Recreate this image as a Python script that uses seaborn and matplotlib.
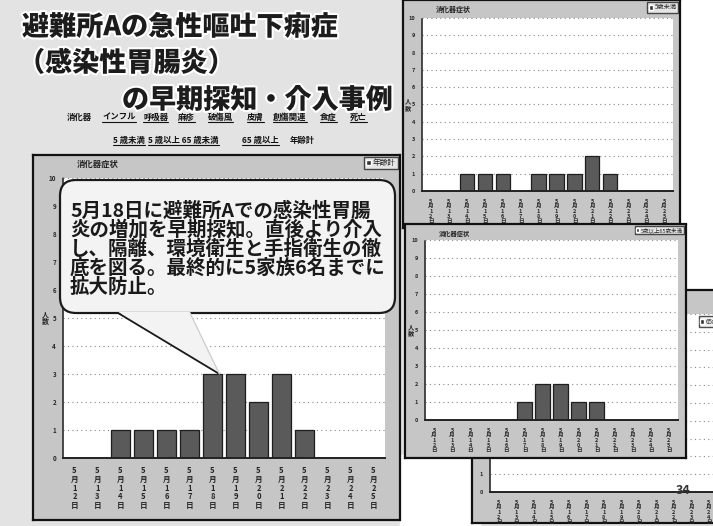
import numpy as np
import pandas as pd
import seaborn as sns
import matplotlib.pyplot as plt
from matplotlib.patches import FancyBboxPatch, Polygon, Rectangle, Patch
import matplotlib.patheffects as pe

sns.set_theme(style="white")
plt.rcParams['font.family'] = ['Noto Sans CJK JP', 'DejaVu Sans']

# data
dates = ["5月12日", "5月13日", "5月14日", "5月15日", "5月16日", "5月17日", "5月18日",
         "5月19日", "5月20日", "5月21日", "5月22日", "5月23日", "5月24日", "5月25日"]
total = [0, 0, 1, 1, 1, 1, 3, 3, 2, 3, 1, 0, 0, 0]
under5 = [0, 0, 1, 1, 1, 0, 1, 1, 1, 2, 1, 0, 0, 0]
age5_64 = [0, 0, 0, 0, 0, 1, 2, 2, 1, 1, 0, 0, 0, 0]
over65 = [0, 0, 0, 0, 0, 0, 0, 0, 0, 0, 0, 0, 0, 0]

title_lines = ["避難所Aの急性嘔吐下痢症", "（感染性胃腸炎）", "の早期探知・介入事例"]
menu1 = ["消化器", "インフル", "呼吸器", "麻疹", "破傷風", "皮膚", "創傷関連", "食症", "死亡"]
menu1_x = [67, 102, 143, 178, 208, 247, 273, 320, 350]
menu2 = ["5 歳未満", "5 歳以上 65 歳未満", "65 歳以上", "年齢計"]
menu2_x = [113, 148, 242, 290]
bubble_lines = ["5月18日に避難所Aでの感染性胃腸",
                "炎の増加を早期探知。直後より介入",
                "し、隔離、環境衛生と手指衛生の徹",
                "底を図る。最終的に5家族6名までに",
                "拡大防止。"]

W, H = 713, 526
fig = plt.figure(figsize=(W / 100, H / 100), dpi=100)
fig.patch.set_facecolor('#e3e3e3')


def box(x0, y0, x1, y1):
    return [x0 / W, 1 - y1 / H, (x1 - x0) / W, (y1 - y0) / H]


def vert(s):
    return "\n".join(list(s))


def chart(panel, plot, values, legend, z, tick_fs, lab_fs, title_fs, label_x,
          legend_on_plot=False):
    pax = fig.add_axes(box(*panel), zorder=z)
    pax.set_facecolor('#c6c6c6')
    pax.set_xticks([])
    pax.set_yticks([])
    for s in pax.spines.values():
        s.set_linestyle((0, (1, 1)))
        s.set_linewidth(1.6)
        s.set_color('#111111')
    ax = fig.add_axes(box(*plot), zorder=z + 0.5)
    ax.set_facecolor('white')
    df = pd.DataFrame({"date": dates, "n": values})
    sns.barplot(data=df, x="date", y="n", color='#5a5a5a', edgecolor='#1e1e1e',
                linewidth=0.9, width=0.8, saturation=1, ax=ax)
    ax.set_ylim(0, 10)
    ax.set_yticks(range(11))
    ax.set_yticklabels([str(i) for i in range(11)], fontsize=tick_fs, fontweight='bold')
    ax.set_xticks(range(len(dates)))
    ax.set_xticklabels([vert(d) for d in dates], fontsize=lab_fs, fontweight='bold',
                       linespacing=0.95, va='top')
    ax.tick_params(axis='x', length=0, pad=6)
    ax.tick_params(axis='y', length=2, pad=3)
    ax.yaxis.grid(True, linestyle=(0, (1, 3)), color='#888888', linewidth=0.8)
    ax.set_axisbelow(True)
    ax.set_xlabel("")
    ax.set_ylabel("人\n数", fontsize=tick_fs + 0.5, rotation=0,
                  va='center', ha='center', linespacing=0.9, fontweight='bold')
    ax.yaxis.set_label_coords((label_x - plot[0]) / (plot[2] - plot[0]), 0.5)
    for side in ["top", "right"]:
        ax.spines[side].set_visible(False)
    ax.spines["left"].set_linestyle((0, (1, 1)))
    ax.spines["left"].set_color('#333333')
    ax.spines["bottom"].set_color('#222222')
    ax.spines["bottom"].set_linewidth(1.4)
    pax.text(0.12, 1 - 9 / (panel[3] - panel[1]), "消化器症状", transform=pax.transAxes,
             fontsize=title_fs, fontweight='bold', color='#222222', va='center')
    host = ax if legend_on_plot else pax
    lg = host.legend(handles=[Patch(facecolor='#333333')], labels=[legend],
                     loc='upper right', fontsize=title_fs - 0.5, frameon=True,
                     handlelength=0.6, handleheight=0.8, handletextpad=0.3,
                     borderpad=0.25, borderaxespad=0.3, fancybox=False)
    lg.get_frame().set_edgecolor('#222222')
    lg.get_frame().set_linewidth(1.0)
    lg.get_frame().set_facecolor('#eeeeee')
    return ax


# white background strips behind the stacked screenshots
bg = fig.add_axes([0, 0, 1, 1], zorder=0)
bg.set_xlim(0, W)
bg.set_ylim(H, 0)
bg.axis('off')
bg.add_patch(Rectangle((680, 0), 40, 300, color='white'))
bg.add_patch(Rectangle((400, 455), 80, 80, color='white'))

# 65歳以上 (mostly hidden)
chart((472, 290, 760, 523), (490, 314, 735, 492), over65, "65歳以上", 1, 4, 4, 5, 478,
      legend_on_plot=True)
# 5歳未満
chart((403, 0, 680, 228), (422, 18, 673, 191), under5, "5歳未満", 2, 4, 4, 5, 408)
# 5歳以上65歳未満
chart((405, 224, 686, 458), (425, 240, 678, 420), age5_64, "5歳以上65歳未満", 3, 4, 4, 4.5, 411)
# 年齢計 (main)
main_ax = chart((33, 155, 400, 520), (63, 178, 385, 458), total, "年齢計", 4, 4.5, 5.5, 6, 45)

# overlay in pixel coordinates
ov = fig.add_axes([0, 0, 1, 1], zorder=20)
ov.set_xlim(0, W)
ov.set_ylim(H, 0)
ov.axis('off')

title_pos = [(22, 27), (18, 63), (122, 100)]
for t, (x, y) in zip(title_lines, title_pos):
    ov.text(x, y, t, fontsize=19.5, fontweight='black', color='#1c1c1c', va='center',
            path_effects=[pe.withStroke(linewidth=3, foreground='white')])

for t, x in zip(menu1, menu1_x):
    ov.text(x, 120, t, fontsize=6, fontweight='bold', color='#111111', va='baseline')
for t, x in zip(menu2, menu2_x):
    ov.text(x, 143, t, fontsize=6, fontweight='bold', color='#111111', va='baseline')

fig.canvas.draw()
inv = ov.transData.inverted()
for txt in ov.texts[3:]:
    if txt.get_text() in ("消化器", "年齢計"):
        continue
    (x0, _), (x1, _) = inv.transform(txt.get_window_extent().get_points())
    y = txt.get_position()[1] + 2
    ov.plot([x0, x1], [y, y], color='#111111', lw=0.8)

# speech bubble pointing to the 5/18 bar
tip = inv.transform(main_ax.transData.transform((6.3, total[6])))
bx0, by0, bx1, by1 = 60, 180, 395, 313
bub = FancyBboxPatch((bx0, by0), bx1 - bx0, by1 - by0,
                     boxstyle="round,pad=0,rounding_size=16",
                     facecolor='#f3f3f3', edgecolor='#1a1a1a', lw=1.6, zorder=2)
ov.add_patch(bub)
ov.add_patch(Polygon([(118, by1 - 1), (tip[0], tip[1]), (190, by1 - 1)], closed=True,
                     facecolor='#f3f3f3', edgecolor='none', zorder=3))
ov.plot([118, tip[0]], [by1, tip[1]], color='#1a1a1a', lw=1.3, zorder=4)
ov.plot([190, tip[0]], [by1, tip[1]], color='#d0d0d0', lw=1.0, zorder=4)
for i, t in enumerate(bubble_lines):
    ov.text(70, 211 + 19 * i, t, fontsize=14, fontweight='bold', color='#1a1a1a',
            va='center', zorder=5)

ov.text(676, 490, "34", fontsize=9, fontweight='bold', color='#333333', va='center')

fig.savefig("out.png", dpi=100, facecolor=fig.get_facecolor())
